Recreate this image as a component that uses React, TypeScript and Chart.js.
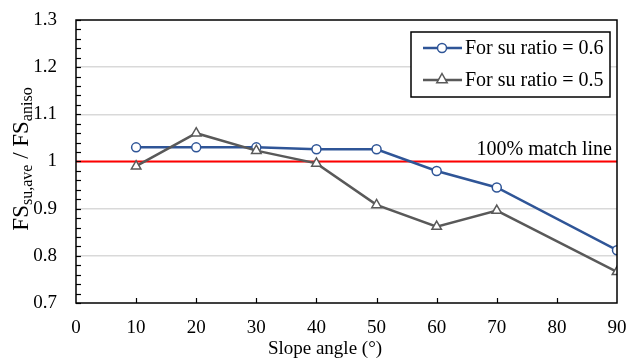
import React, { useEffect, useRef } from "react";
import { Chart, registerables } from "chart.js";

Chart.register(...registerables);

const slopeAngles = [10, 20, 30, 40, 50, 60, 70, 90];
const ratio06 = [1.03, 1.03, 1.03, 1.026, 1.026, 0.98, 0.945, 0.812];
const ratio05 = [0.99, 1.06, 1.023, 0.996, 0.908, 0.862, 0.896, 0.766];
const matchLineX = [0, 90];
const matchLineY = [1, 1];
const legendLabels = ["For su ratio = 0.6", "For su ratio = 0.5"];
const matchLineLabel = "100% match line";
const xTitle = "Slope angle (°)";

const BLUE = "#2F5597";
const GRAY = "#595959";
const RED = "#FF0000";
const SERIF = "'Liberation Serif', 'Times New Roman', serif";

function drawTriangle(ctx: CanvasRenderingContext2D, x: number, y: number, r: number) {
  ctx.beginPath();
  ctx.moveTo(x, y - r);
  ctx.lineTo(x + r * 0.95, y + r * 0.7);
  ctx.lineTo(x - r * 0.95, y + r * 0.7);
  ctx.closePath();
}

const overlay = {
  id: "overlay",
  afterDraw(chart: any) {
    const ctx: CanvasRenderingContext2D = chart.ctx;
    const { left, right, top, bottom } = chart.chartArea;
    const xs = chart.scales.x;
    const ys = chart.scales.y;
    ctx.save();
    // inward ticks
    ctx.strokeStyle = "#000";
    ctx.lineWidth = 1.2;
    for (let v = 0.7; v <= 1.3001; v += 0.02) {
      const py = Math.round(ys.getPixelForValue(v)) + 0.5;
      ctx.beginPath();
      ctx.moveTo(left, py);
      ctx.lineTo(left + 5, py);
      ctx.stroke();
    }
    for (let v = 10; v <= 80; v += 10) {
      const px = Math.round(xs.getPixelForValue(v)) + 0.5;
      ctx.beginPath();
      ctx.moveTo(px, bottom);
      ctx.lineTo(px, bottom - 5);
      ctx.stroke();
    }
    // border
    ctx.lineWidth = 1.5;
    ctx.strokeRect(left, top, right - left, bottom - top);

    // match line label
    ctx.fillStyle = "#000";
    ctx.font = `20px ${SERIF}`;
    ctx.textAlign = "right";
    ctx.textBaseline = "alphabetic";
    ctx.fillText(matchLineLabel, 612, 155);

    // legend
    const lx = 411, ly = 32, lw = 199, lh = 65;
    ctx.fillStyle = "#fff";
    ctx.fillRect(lx, ly, lw, lh);
    ctx.strokeStyle = "#000";
    ctx.lineWidth = 1.5;
    ctx.strokeRect(lx, ly, lw, lh);
    const rows = [
      { y: 48, color: BLUE, label: legendLabels[0], kind: "circle" },
      { y: 80, color: GRAY, label: legendLabels[1], kind: "triangle" },
    ];
    for (const r of rows) {
      ctx.strokeStyle = r.color;
      ctx.lineWidth = 2.5;
      ctx.beginPath();
      ctx.moveTo(423, r.y);
      ctx.lineTo(462, r.y);
      ctx.stroke();
      ctx.fillStyle = "#fff";
      ctx.lineWidth = 1.5;
      if (r.kind === "circle") {
        ctx.beginPath();
        ctx.arc(442, r.y, 4.5, 0, Math.PI * 2);
      } else {
        drawTriangle(ctx, 442, r.y - 1, 5.5);
      }
      ctx.fill();
      ctx.stroke();
      ctx.fillStyle = "#000";
      ctx.font = `20px ${SERIF}`;
      ctx.textAlign = "left";
      ctx.textBaseline = "middle";
      ctx.fillText(r.label, 465, r.y + 1);
    }

    // x title
    ctx.fillStyle = "#000";
    ctx.font = `19px ${SERIF}`;
    ctx.textAlign = "center";
    ctx.textBaseline = "alphabetic";
    ctx.fillText(xTitle, 325, 354);

    // y title with subscripts
    ctx.save();
    ctx.translate(28, 159);
    ctx.rotate(-Math.PI / 2);
    const parts = [
      { t: "FS", sub: false },
      { t: "su,ave", sub: true },
      { t: " / ", sub: false },
      { t: "FS", sub: false },
      { t: "aniso", sub: true },
    ];
    const big = `23px ${SERIF}`;
    const small = `16px ${SERIF}`;
    let total = 0;
    for (const p of parts) {
      ctx.font = p.sub ? small : big;
      total += ctx.measureText(p.t).width;
    }
    let cx = -total / 2;
    ctx.textAlign = "left";
    ctx.textBaseline = "alphabetic";
    for (const p of parts) {
      ctx.font = p.sub ? small : big;
      ctx.fillText(p.t, cx, p.sub ? 4 : 0);
      cx += ctx.measureText(p.t).width;
    }
    ctx.restore();

    ctx.restore();
  },
};

export default function App() {
  const ref = useRef<HTMLCanvasElement>(null);
  useEffect(() => {
    document.body.style.margin = "0";
    const canvas = ref.current!;
    const chart = new Chart(canvas, {
      type: "line",
      data: {
        datasets: [
          {
            label: "match",
            data: matchLineX.map((x, i) => ({ x, y: matchLineY[i] })),
            borderColor: RED,
            borderWidth: 1.8,
            pointRadius: 0,
            order: 3,
          },
          {
            label: legendLabels[0],
            data: slopeAngles.map((x, i) => ({ x, y: ratio06[i] })),
            borderColor: BLUE,
            borderWidth: 2.5,
            pointStyle: "circle",
            pointRadius: 4.5,
            pointBorderWidth: 1.5,
            pointBackgroundColor: "#fff",
            pointBorderColor: BLUE,
            order: 2,
          },
          {
            label: legendLabels[1],
            data: slopeAngles.map((x, i) => ({ x, y: ratio05[i] })),
            borderColor: GRAY,
            borderWidth: 2.5,
            pointStyle: "triangle",
            pointRadius: 5.5,
            pointBorderWidth: 1.5,
            pointBackgroundColor: "#fff",
            pointBorderColor: GRAY,
            order: 1,
          },
        ],
      },
      options: {
        responsive: false,
        animation: false,
        events: [],
        layout: { padding: { top: 20, right: 10, left: 0, bottom: 0 } },
        plugins: { legend: { display: false }, tooltip: { enabled: false } },
        scales: {
          x: {
            type: "linear",
            min: 0,
            max: 90,
            afterFit: (s: any) => {
              s.height = 56;
              s.paddingLeft = 0;
              s.paddingRight = 0;
            },
            ticks: {
              stepSize: 10,
              color: "#000",
              font: { family: SERIF, size: 19 },
              padding: 14,
              maxRotation: 0,
            },
            grid: { display: false, drawTicks: false },
            border: { display: false },
          },
          y: {
            type: "linear",
            min: 0.7,
            max: 1.3,
            afterFit: (s: any) => {
              s.width = 76;
              s.paddingTop = 0;
              s.paddingBottom = 0;
            },
            ticks: {
              stepSize: 0.1,
              color: "#000",
              font: { family: SERIF, size: 19 },
              padding: 19,
              callback: (v: any) => String(Number(Number(v).toFixed(1))),
            },
            grid: {
              drawTicks: false,
              color: (c: any) => {
                const v = Number(c.tick.value.toFixed(2));
                return v <= 0.7 || v >= 1.3 ? "rgba(0,0,0,0)" : "#D9D9D9";
              },
              lineWidth: 1.5,
            },
            border: { display: false },
          },
        },
      },
      plugins: [overlay],
    });
    return () => chart.destroy();
  }, []);
  return (
    <div style={{ width: 627, height: 359 }}>
      <canvas ref={ref} width={627} height={359} />
    </div>
  );
}
